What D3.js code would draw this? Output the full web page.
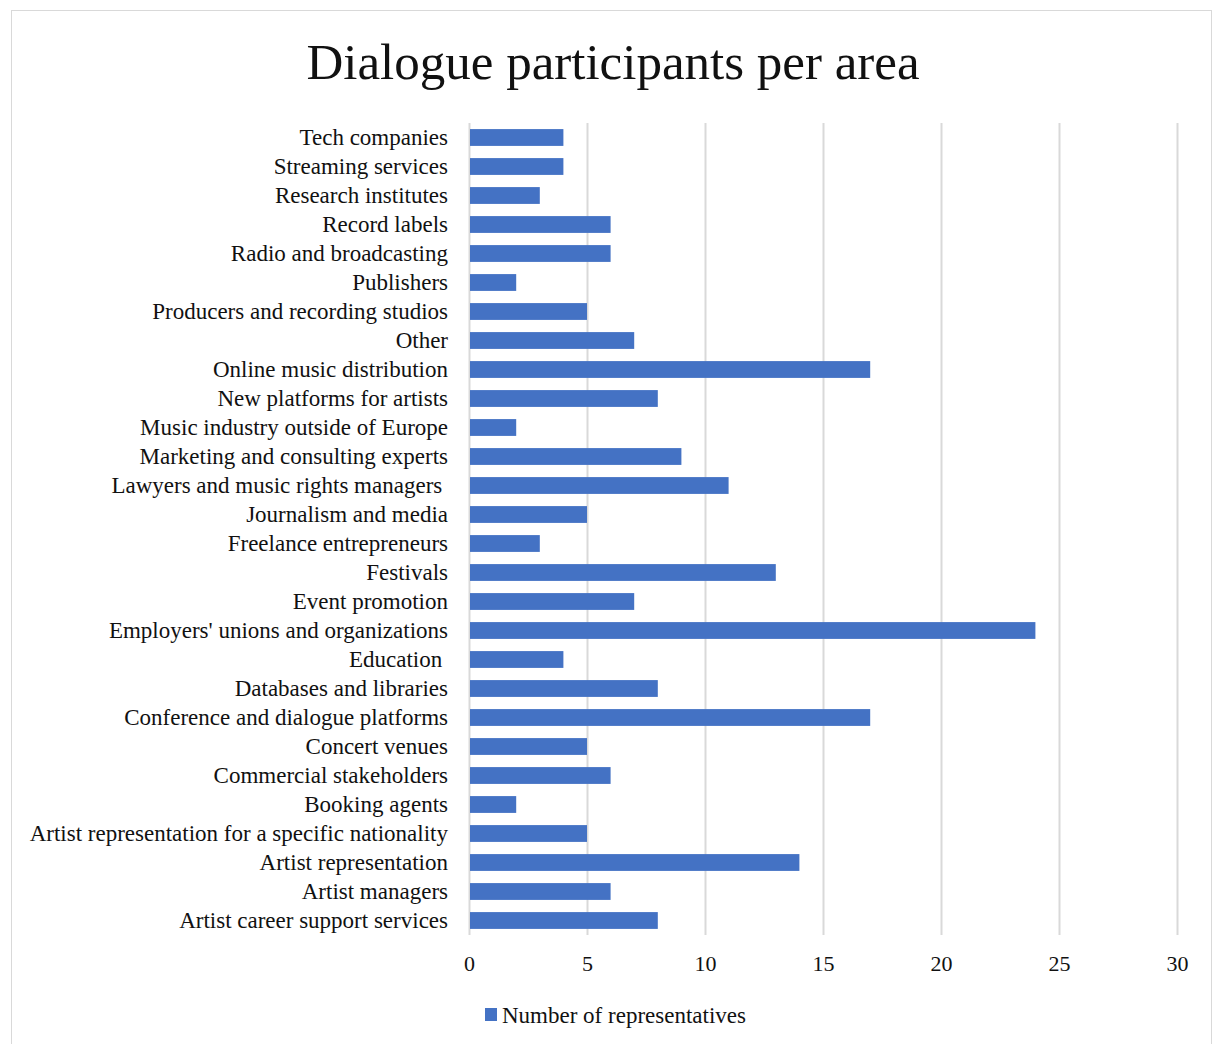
<!DOCTYPE html>
<html><head><meta charset="utf-8">
<script src="https://cdn.jsdelivr.net/npm/d3@7/dist/d3.min.js"></script>
<style>
html,body{margin:0;padding:0;background:#fff;}
text{font-family:"Liberation Serif","DejaVu Serif",serif;fill:#111;}
</style></head>
<body>
<svg id="chart" width="1213" height="1044"></svg>
<script>
const categories = ["Tech companies","Streaming services","Research institutes","Record labels","Radio and broadcasting","Publishers","Producers and recording studios","Other","Online music distribution","New platforms for artists","Music industry outside of Europe","Marketing and consulting experts","Lawyers and music rights managers ","Journalism and media","Freelance entrepreneurs","Festivals","Event promotion","Employers' unions and organizations","Education ","Databases and libraries","Conference and dialogue platforms","Concert venues","Commercial stakeholders","Booking agents","Artist representation for a specific nationality","Artist representation","Artist managers","Artist career support services"];
const values = [4,4,3,6,6,2,5,7,17,8,2,9,11,5,3,13,7,24,4,8,17,5,6,2,5,14,6,8];
const tickValues = [0,5,10,15,20,25,30];
const seriesName = "Number of representatives";
const title = "Dialogue participants per area";

const svg = d3.select("#chart");
svg.append("rect").attr("x",11.5).attr("y",10.5).attr("width",1200).attr("height",1050)
  .attr("fill","#fff").attr("stroke","#d9d9d9").attr("stroke-width",1);

const x = d3.scaleLinear().domain([0,30]).range([469,1177]);
const y = d3.scaleBand().domain(categories).range([123,935]).paddingInner(0.42).paddingOuter(0.21);

svg.append("text").attr("x",613).attr("y",79).attr("text-anchor","middle")
  .style("font-size","51px").text(title);

// gridlines
svg.append("g").selectAll("line").data(tickValues).join("line")
  .attr("x1",d=>x(d)+0.5).attr("x2",d=>x(d)+0.5).attr("y1",123).attr("y2",935)
  .attr("stroke","#d9d9d9").attr("stroke-width",2);

// bars
svg.append("g").selectAll("rect").data(categories).join("rect")
  .attr("x",x(0)+1).attr("y",d=>y(d)).attr("height",y.bandwidth())
  .attr("width",(d,i)=>x(values[i])-x(0)-1).attr("fill","#4472c4");

// y axis labels
const yAxis = d3.axisLeft(y).tickSize(0).tickPadding(21);
const gy = svg.append("g").attr("transform","translate(469,0)").call(yAxis);
gy.select(".domain").remove();
gy.selectAll("text").style("font-size","23px").style("white-space","pre").attr("fill","#111");

// x axis
const xAxis = d3.axisBottom(x).tickValues(tickValues).tickSize(0).tickPadding(7);
const gx = svg.append("g").attr("transform","translate(0,948)").call(xAxis);
gx.select(".domain").remove();
gx.selectAll("text").style("font-size","22px").attr("fill","#111");

// legend
svg.append("rect").attr("x",485).attr("y",1008).attr("width",12).attr("height",13).attr("fill","#4472c4");
svg.append("text").attr("x",502).attr("y",1023).style("font-size","23px").text(seriesName);
</script>
</body></html>
